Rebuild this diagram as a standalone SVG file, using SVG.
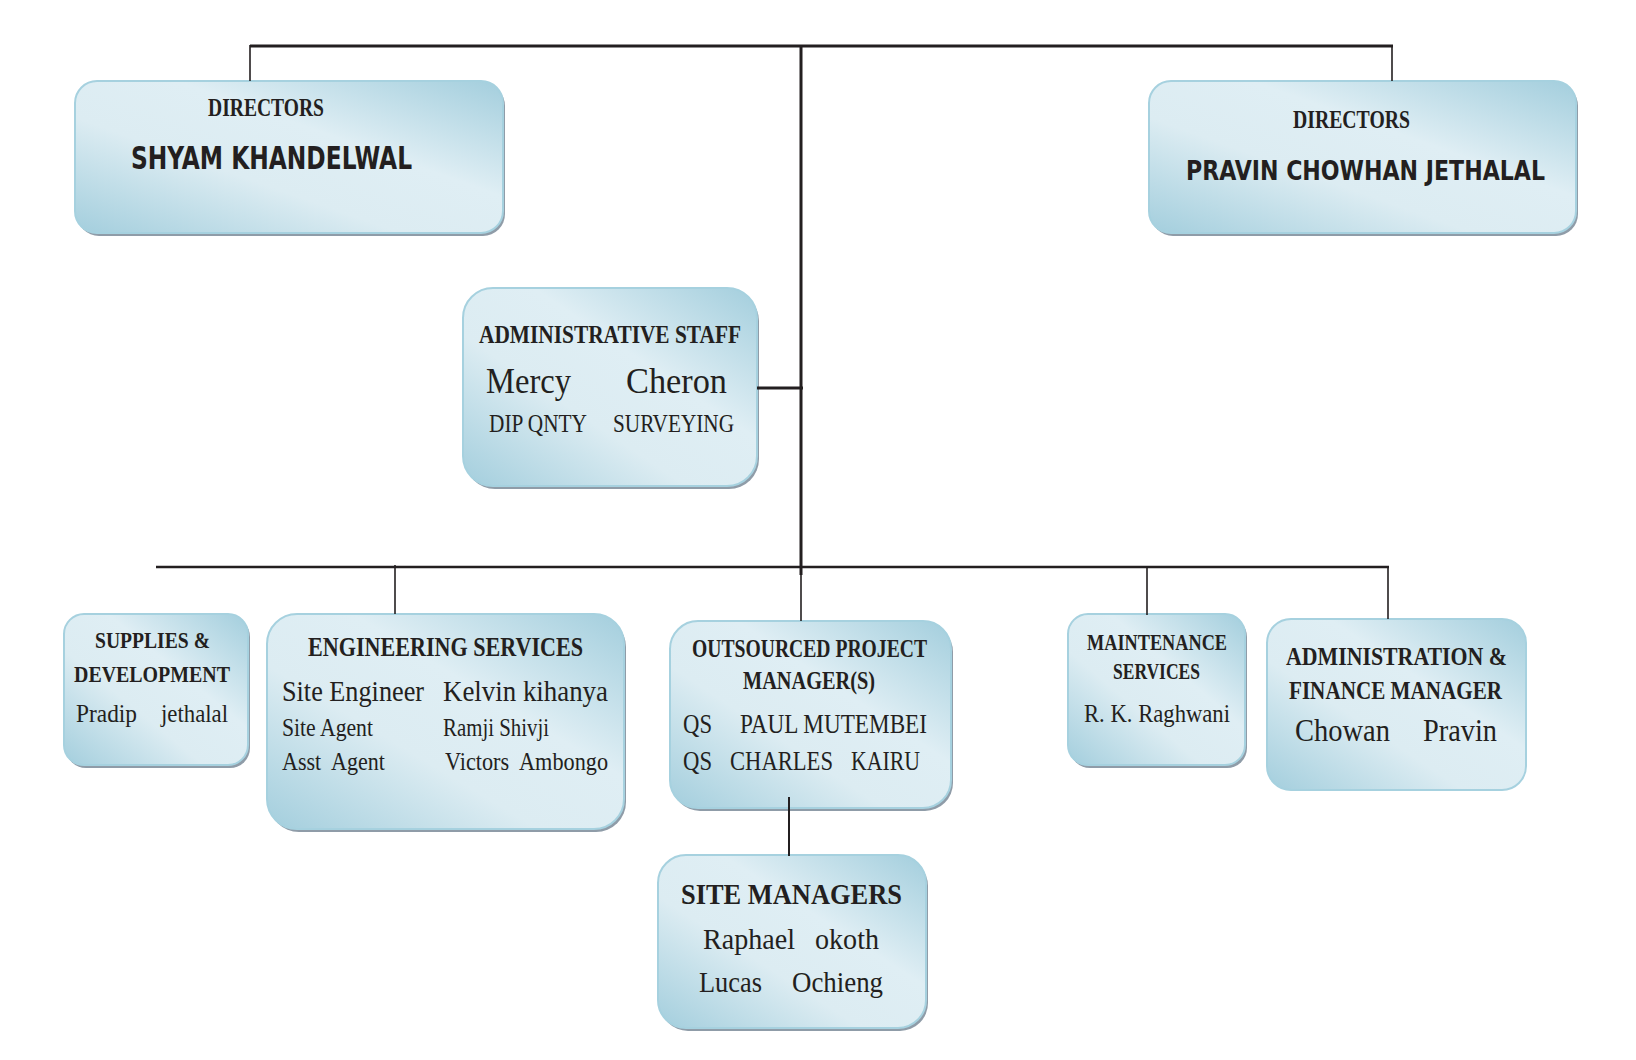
<svg xmlns="http://www.w3.org/2000/svg" width="1636" height="1060" viewBox="0 0 1636 1060">
<defs>
<linearGradient id="g" x1="0" y1="1" x2="1" y2="0">
<stop offset="0" stop-color="#a3cedd"/>
<stop offset="0.38" stop-color="#dcecf2"/>
<stop offset="0.62" stop-color="#dfeef4"/>
<stop offset="1" stop-color="#a3cedd"/>
</linearGradient>
<style>
.box{fill:url(#g);stroke:#a6d1df;stroke-width:2}
.sh{fill:#8f9ca8}
.t{font-family:"Liberation Serif","DejaVu Serif",serif;fill:#231f20}
.b{font-weight:bold}
.s{font-family:"DejaVu Sans Condensed","DejaVu Sans","Liberation Sans",sans-serif;font-weight:bold;fill:#231f20}
.c{stroke:#231f20;fill:none}
</style>
</defs>
<rect width="1636" height="1060" fill="#ffffff"/>

<g id="n-shyam">
<rect class="sh" x="77" y="84" width="428" height="152" rx="22"/>
<rect class="box" x="75" y="81" width="428" height="152" rx="22"/>
<text class="t b" x="208" y="116" font-size="25" textLength="116" lengthAdjust="spacingAndGlyphs">DIRECTORS</text>
<text class="s" x="131" y="169" font-size="32" textLength="281" lengthAdjust="spacingAndGlyphs">SHYAM KHANDELWAL</text>
</g>

<g id="n-pravin">
<rect class="sh" x="1151" y="84" width="427" height="152" rx="22"/>
<rect class="box" x="1149" y="81" width="427" height="152" rx="22"/>
<text class="t b" x="1293" y="128" font-size="25" textLength="117" lengthAdjust="spacingAndGlyphs">DIRECTORS</text>
<text class="s" x="1186" y="180" font-size="26" textLength="359" lengthAdjust="spacingAndGlyphs">PRAVIN CHOWHAN JETHALAL</text>
</g>

<g id="n-adminstaff">
<rect class="sh" x="465" y="291" width="294" height="198" rx="30"/>
<rect class="box" x="463" y="288" width="294" height="198" rx="30"/>
<text class="t b" x="479" y="343" font-size="25" textLength="262" lengthAdjust="spacingAndGlyphs">ADMINISTRATIVE STAFF</text>
<text class="t" x="486" y="393" font-size="35" textLength="85" lengthAdjust="spacingAndGlyphs">Mercy</text>
<text class="t" x="626" y="393" font-size="35" textLength="101" lengthAdjust="spacingAndGlyphs">Cheron</text>
<text class="t" x="489" y="432" font-size="25" textLength="98" lengthAdjust="spacingAndGlyphs">DIP QNTY</text>
<text class="t" x="613" y="432" font-size="25" textLength="121" lengthAdjust="spacingAndGlyphs">SURVEYING</text>
</g>

<g id="n-supplies">
<rect class="sh" x="66" y="617" width="184" height="151" rx="20"/>
<rect class="box" x="64" y="614" width="184" height="151" rx="20"/>
<text class="t b" x="95" y="648" font-size="24" textLength="115" lengthAdjust="spacingAndGlyphs">SUPPLIES &amp;</text>
<text class="t b" x="74" y="682" font-size="24" textLength="156" lengthAdjust="spacingAndGlyphs">DEVELOPMENT</text>
<text class="t" x="76" y="722" font-size="26" textLength="61" lengthAdjust="spacingAndGlyphs">Pradip</text>
<text class="t" x="161" y="722" font-size="26" textLength="67" lengthAdjust="spacingAndGlyphs">jethalal</text>
</g>

<g id="n-engineering">
<rect class="sh" x="269" y="617" width="357" height="215" rx="30"/>
<rect class="box" x="267" y="614" width="357" height="215" rx="30"/>
<text class="t b" x="308" y="656" font-size="27" textLength="275" lengthAdjust="spacingAndGlyphs">ENGINEERING SERVICES</text>
<text class="t" x="282" y="701" font-size="30" textLength="142" lengthAdjust="spacingAndGlyphs">Site Engineer</text>
<text class="t" x="443" y="701" font-size="30" textLength="165" lengthAdjust="spacingAndGlyphs">Kelvin kihanya</text>
<text class="t" x="282" y="736" font-size="25" textLength="91" lengthAdjust="spacingAndGlyphs">Site Agent</text>
<text class="t" x="443" y="736" font-size="25" textLength="106" lengthAdjust="spacingAndGlyphs">Ramji Shivji</text>
<text class="t" x="282" y="770" font-size="25" textLength="103" lengthAdjust="spacingAndGlyphs" xml:space="preserve">Asst  Agent</text>
<text class="t" x="445" y="770" font-size="25" textLength="163" lengthAdjust="spacingAndGlyphs" xml:space="preserve">Victors  Ambongo</text>
</g>

<g id="n-outsourced">
<rect class="sh" x="672" y="624" width="281" height="187" rx="28"/>
<rect class="box" x="670" y="621" width="281" height="187" rx="28"/>
<text class="t b" x="692" y="657" font-size="25" textLength="235" lengthAdjust="spacingAndGlyphs">OUTSOURCED PROJECT</text>
<text class="t b" x="743" y="689" font-size="25" textLength="132" lengthAdjust="spacingAndGlyphs">MANAGER(S)</text>
<text class="t" x="683" y="733" font-size="28" textLength="29" lengthAdjust="spacingAndGlyphs">QS</text>
<text class="t" x="740" y="733" font-size="28" textLength="187" lengthAdjust="spacingAndGlyphs">PAUL MUTEMBEI</text>
<text class="t" x="683" y="770" font-size="28" textLength="29" lengthAdjust="spacingAndGlyphs">QS</text>
<text class="t" x="730" y="770" font-size="28" textLength="103" lengthAdjust="spacingAndGlyphs">CHARLES</text>
<text class="t" x="851" y="770" font-size="28" textLength="69" lengthAdjust="spacingAndGlyphs">KAIRU</text>
</g>

<g id="n-sitemanagers">
<rect class="sh" x="660" y="858" width="268" height="173" rx="28"/>
<rect class="box" x="658" y="855" width="268" height="173" rx="28"/>
<text class="t b" x="681" y="904" font-size="29" textLength="221" lengthAdjust="spacingAndGlyphs">SITE MANAGERS</text>
<text class="t" x="703" y="949" font-size="30" textLength="92" lengthAdjust="spacingAndGlyphs">Raphael</text>
<text class="t" x="815" y="949" font-size="30" textLength="64" lengthAdjust="spacingAndGlyphs">okoth</text>
<text class="t" x="699" y="992" font-size="30" textLength="63" lengthAdjust="spacingAndGlyphs">Lucas</text>
<text class="t" x="792" y="992" font-size="30" textLength="91" lengthAdjust="spacingAndGlyphs">Ochieng</text>
</g>

<g id="n-maintenance">
<rect class="sh" x="1070" y="617" width="177" height="151" rx="20"/>
<rect class="box" x="1068" y="614" width="177" height="151" rx="20"/>
<text class="t b" x="1087" y="650" font-size="23" textLength="140" lengthAdjust="spacingAndGlyphs">MAINTENANCE</text>
<text class="t b" x="1113" y="679" font-size="23" textLength="87" lengthAdjust="spacingAndGlyphs">SERVICES</text>
<text class="t" x="1084" y="722" font-size="26" textLength="146" lengthAdjust="spacingAndGlyphs">R. K. Raghwani</text>
</g>

<g id="n-adminfinance">
<rect class="box" x="1267" y="619" width="259" height="171" rx="24"/>
<text class="t b" x="1286" y="665" font-size="25" textLength="221" lengthAdjust="spacingAndGlyphs">ADMINISTRATION &amp;</text>
<text class="t b" x="1289" y="699" font-size="25" textLength="213" lengthAdjust="spacingAndGlyphs">FINANCE MANAGER</text>
<text class="t" x="1295" y="741" font-size="32" textLength="95" lengthAdjust="spacingAndGlyphs">Chowan</text>
<text class="t" x="1423" y="741" font-size="32" textLength="74" lengthAdjust="spacingAndGlyphs">Pravin</text>
</g>

<g id="connectors">
<line class="c" x1="250" y1="46" x2="1393" y2="46" stroke-width="3"/>
<line class="c" x1="250" y1="45" x2="250" y2="81" stroke-width="1.6"/>
<line class="c" x1="1392" y1="45" x2="1392" y2="81" stroke-width="1.6"/>
<line class="c" x1="801" y1="45" x2="801" y2="575" stroke-width="3"/>
<line class="c" x1="757" y1="388" x2="803" y2="388" stroke-width="3"/>
<line class="c" x1="156" y1="567" x2="1389" y2="567" stroke-width="2.5"/>
<line class="c" x1="395" y1="565" x2="395" y2="614" stroke-width="1.6"/>
<line class="c" x1="801" y1="567" x2="801" y2="621" stroke-width="1.6"/>
<line class="c" x1="1147" y1="567" x2="1147" y2="615" stroke-width="1.6"/>
<line class="c" x1="1388" y1="567" x2="1388" y2="619" stroke-width="1.6"/>
<line class="c" x1="789" y1="797" x2="789" y2="856" stroke-width="2"/>
</g>
</svg>
